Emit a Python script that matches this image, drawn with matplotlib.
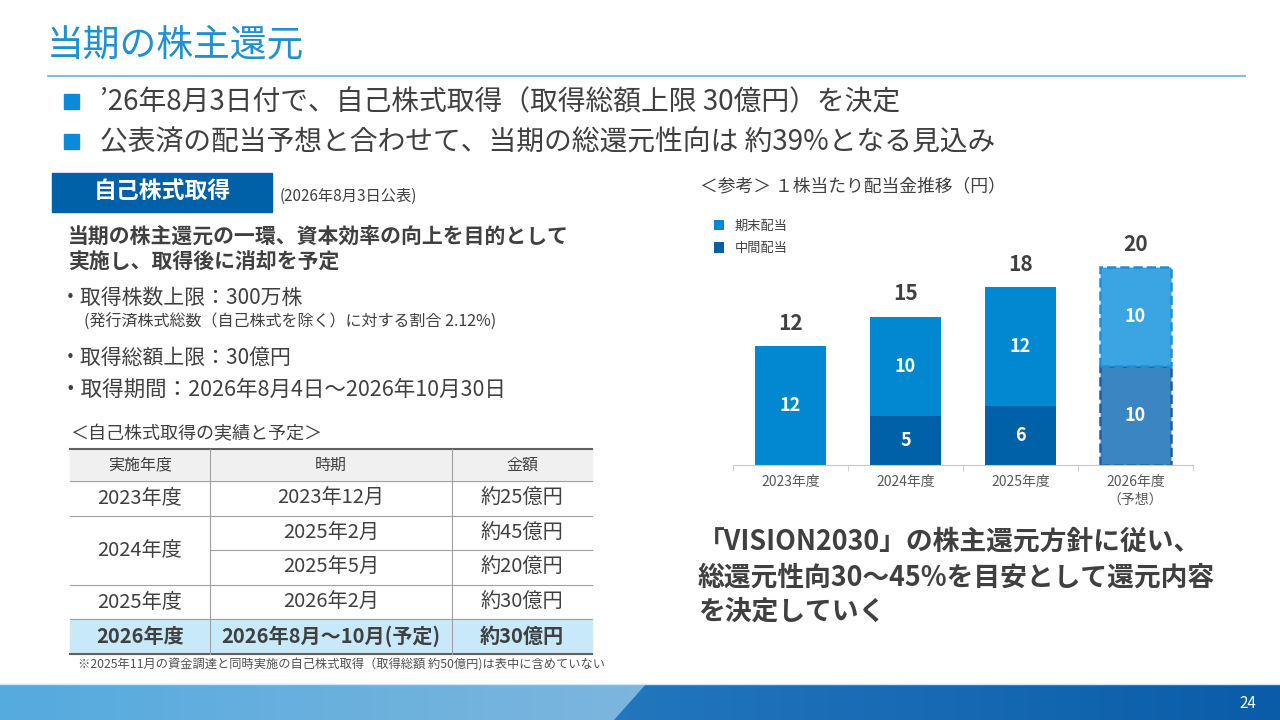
import numpy as np
import matplotlib.pyplot as plt
from matplotlib.colors import LinearSegmentedColormap
from matplotlib.patches import Rectangle, Polygon

plt.rcParams['font.family'] = ['Noto Sans CJK JP', 'DejaVu Sans']

# chart data
years = ['2023年度', '2024年度', '2025年度', '2026年度\n（予想）']
interim = [0, 5, 6, 10]
year_end = [12, 10, 12, 10]
totals = [a + b for a, b in zip(interim, year_end)]

# table data
table_header = ['実施年度', '時期', '金額']
table_years = ['2023年度', '2024年度', '', '2025年度', '2026年度']
table_period = ['2023年12月', '2025年2月', '2025年5月', '2026年2月', '2026年8月～10月(予定)']
table_amount = ['約25億円', '約45億円', '約20億円', '約30億円', '約30億円']

TXT = '#404040'
BLUE = '#0288D1'
DARK = '#0060A8'

fig = plt.figure(figsize=(12.8, 7.2), dpi=100)
bg = fig.add_axes([0, 0, 1, 1])
bg.set_xlim(0, 1280)
bg.set_ylim(720, 0)
bg.axis('off')

# header
bg.text(47, 45, '当期の株主還元', fontsize=26.5, color='#2090D0', va='center')
bg.plot([48, 1245], [76, 76], color='#6AAED8', lw=1.2)
for y, s in [(102, '’26年8月3日付で、自己株式取得（取得総額上限 30億円）を決定'),
             (142, '公表済の配当予想と合わせて、当期の総還元性向は 約39%となる見込み')]:
    bg.add_patch(Rectangle((64, y - 8), 15, 15, color='#0A8AD8'))
    bg.text(100, y, s, fontsize=20, color=TXT, va='center')

# left block
bg.add_patch(Rectangle((52, 173), 220, 39, color=DARK))
bg.text(162, 192, '自己株式取得', fontsize=16.5, color='white', weight='bold', ha='center', va='center')
bg.text(280, 196, '(2026年8月3日公表)', fontsize=11, color=TXT, va='center')
bg.text(68, 236, '当期の株主還元の一環、資本効率の向上を目的として', fontsize=15, color=TXT, weight='bold', va='center')
bg.text(68, 262, '実施し、取得後に消却を予定', fontsize=15, color=TXT, weight='bold', va='center')
bg.text(60, 298, '・取得株数上限：300万株', fontsize=15, color=TXT, va='center')
bg.text(84, 322, '(発行済株式総数（自己株式を除く）に対する割合 2.12%)', fontsize=11.5, color=TXT, va='center')
bg.text(60, 358, '・取得総額上限：30億円', fontsize=15, color=TXT, va='center')
bg.text(60, 390, '・取得期間：2026年8月4日～2026年10月30日', fontsize=15.5, color=TXT, va='center')
bg.text(70, 434, '＜自己株式取得の実績と予定＞', fontsize=13, color=TXT, va='center')

# table
col_x = [70, 210, 452, 592]
row_y = [449, 481, 516, 550, 585, 619, 654]
bg.add_patch(Rectangle((70, 449), 522, 32, color='#F0F0F0', zorder=0))
bg.add_patch(Rectangle((70, 619), 522, 35, color='#C8E9F9', zorder=0))
for j, h in enumerate(table_header):
    bg.text((col_x[j] + col_x[j + 1]) / 2, 465, h, fontsize=11.5, color=TXT, ha='center', va='center')
for i in range(5):
    yc = (row_y[i + 1] + row_y[i + 2]) / 2
    bold = 'bold' if i == 4 else 'normal'
    if table_years[i]:
        yy = yc if i != 1 else row_y[3]
        bg.text(140, yy, table_years[i], fontsize=14.5, color=TXT, ha='center', va='center', weight=bold)
    bg.text(331, yc, table_period[i], fontsize=14.5, color=TXT, ha='center', va='center', weight=bold)
    bg.text(522, yc, table_amount[i], fontsize=14.5, color=TXT, ha='center', va='center', weight=bold)
for k, y in enumerate(row_y):
    if k in (0, 6):
        bg.plot([70, 592], [y, y], color='#606060', lw=1.5)
    elif k == 3:
        bg.plot([210, 592], [y, y], color='#A0A0A0', lw=0.8)
    else:
        bg.plot([70, 592], [y, y], color='#A0A0A0', lw=0.8)
for x in col_x[1:3]:
    bg.plot([x, x], [449, 654], color='#A0A0A0', lw=0.8)
bg.text(78, 665, '※2025年11月の資金調達と同時実施の自己株式取得（取得総額 約50億円)は表中に含めていない',
        fontsize=8.8, color='#505050', va='center')

# right text
bg.text(700, 186, '＜参考＞ １株当たり配当金推移（円）', fontsize=12.8, color=TXT, va='center')
for y, s in [(542, '「VISION2030」の株主還元方針に従い、'),
             (578, '総還元性向30～45%を目安として還元内容'),
             (612, 'を決定していく')]:
    bg.text(698, y, s, fontsize=19.3, color=TXT, weight='bold', va='center')

# footer band
grad_l = np.linspace(0, 1, 256).reshape(1, -1)
bg.imshow(grad_l, cmap=LinearSegmentedColormap.from_list('r', ['#3A8FD0', '#0A5CA8']),
          extent=(0, 1280, 720, 684), aspect='auto', zorder=1)
band_l = Polygon([(0, 684), (646, 684), (614, 720), (0, 720)], closed=True)
im2 = bg.imshow(grad_l, cmap=LinearSegmentedColormap.from_list('l', ['#55AADF', '#7DB6DD']),
                extent=(0, 646, 720, 684), aspect='auto', zorder=2)
bg.add_patch(band_l)
band_l.set_visible(False)
im2.set_clip_path(band_l)
bg.plot([0, 1280], [684, 684], color='#CFE3F2', lw=1, zorder=3)
bg.text(1248, 703, '24', fontsize=11, color='white', ha='center', va='center', zorder=4)
bg.set_xlim(0, 1280)
bg.set_ylim(720, 0)

# bar chart
ax = fig.add_axes([733 / 1280, (720 - 465) / 720, 460 / 1280, 265 / 720])
x = np.arange(len(years))
w = 0.62
end_colors = [BLUE, BLUE, BLUE, '#3BA5E3']
mid_colors = [DARK, DARK, DARK, '#3C85C3']
for i in range(len(years)):
    dashed = i == 3
    ax.bar(x[i], interim[i], w, color=mid_colors[i],
           edgecolor='#1A5FA5' if dashed else 'none', linestyle='--' if dashed else '-',
           linewidth=1.8 if dashed else 0)
    ax.bar(x[i], year_end[i], w, bottom=interim[i], color=end_colors[i],
           edgecolor='#1E90D8' if dashed else 'none', linestyle='--' if dashed else '-',
           linewidth=1.8 if dashed else 0)
    if interim[i]:
        ax.text(x[i], interim[i] / 2, str(interim[i]), color='white', weight='bold',
                fontsize=13, ha='center', va='center')
    ax.text(x[i], interim[i] + year_end[i] / 2, str(year_end[i]), color='white', weight='bold',
            fontsize=13, ha='center', va='center')
    ax.text(x[i], totals[i] + 2.3, str(totals[i]), color=TXT, weight='bold',
            fontsize=15, ha='center', va='center')

ax.bar([0], [0], color=BLUE, label='期末配当')
ax.bar([0], [0], color=DARK, label='中間配当')
ax.legend(loc='upper left', bbox_to_anchor=(702 / 1280, 1 - 208 / 720), bbox_transform=fig.transFigure,
          frameon=False, fontsize=9.5, handlelength=0.8, handleheight=0.8, handletextpad=0.8,
          labelspacing=0.7, labelcolor=TXT)

ax.set_xlim(-0.5, 3.5)
ax.set_ylim(0, 26.8)
ax.set_xticks(x)
ax.set_xticklabels(years, fontsize=10, color='#595959', linespacing=1.4)
ax.set_xticks(np.arange(-0.5, 4, 1), minor=True)
ax.tick_params(axis='x', which='major', length=0, pad=7)
ax.tick_params(axis='x', which='minor', length=4, color='#C8C8C8')
ax.set_yticks([])
for s in ['top', 'right', 'left']:
    ax.spines[s].set_visible(False)
ax.spines['bottom'].set_color('#C8C8C8')
ax.patch.set_alpha(0)

fig.savefig('out.png', dpi=100)
